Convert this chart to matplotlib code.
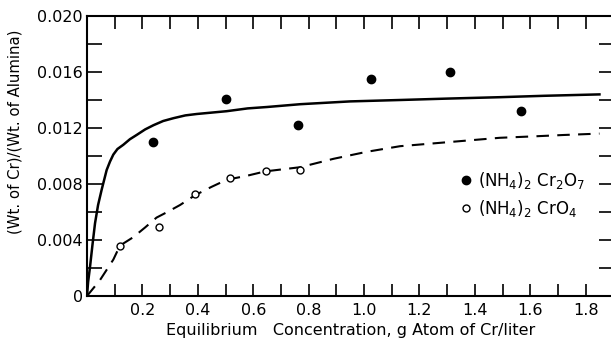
import numpy as np
import matplotlib as mpl
mpl.use('Agg')
from matplotlib import pyplot as plt
from matplotlib.ticker import MultipleLocator, FixedLocator

# measured points, (NH4)2Cr2O7 (filled)
dich_x = [0.24, 0.50, 0.76, 1.025, 1.31, 1.565]
dich_y = [0.0110, 0.0141, 0.0122, 0.0155, 0.0160, 0.0132]

# measured points, (NH4)2CrO4 (open)
chro_x = [0.12, 0.26, 0.39, 0.515, 0.645, 0.77]
chro_y = [0.0036, 0.0049, 0.0073, 0.0084, 0.0089, 0.0090]

# fitted curves
fit1_x = [0.0, 0.004, 0.011, 0.02, 0.029, 0.04, 0.053, 0.062, 0.071, 0.083, 0.095, 0.11,
          0.131, 0.155, 0.179, 0.21, 0.24, 0.275, 0.312, 0.355, 0.396, 0.45, 0.504,
          0.58, 0.65, 0.77, 0.95, 1.13, 1.30, 1.49, 1.65, 1.85]
fit1_y = [0.0, 0.0010, 0.0021, 0.0037, 0.0052, 0.0065, 0.0076, 0.0083, 0.0090, 0.0096, 0.0101, 0.0105,
          0.0108, 0.0112, 0.0115, 0.0119, 0.0122, 0.0125, 0.0127, 0.0129, 0.0130, 0.0131, 0.0132,
          0.0134, 0.0135, 0.0137, 0.0139, 0.0140, 0.0141, 0.0142, 0.0143, 0.0144]

fit2_x = [0.0, 0.047, 0.095, 0.119, 0.167, 0.21, 0.251, 0.29, 0.336, 0.39, 0.45, 0.504,
          0.58, 0.643, 0.77, 0.89, 1.01, 1.13, 1.25, 1.37, 1.49, 1.61, 1.72, 1.85]
fit2_y = [0.0, 0.00114, 0.0026, 0.0036, 0.0042, 0.0049, 0.0056, 0.0060, 0.0065, 0.0072, 0.0078, 0.0083,
          0.0086, 0.0089, 0.0092, 0.0098, 0.0103, 0.0107, 0.0109, 0.0111, 0.0113, 0.0114, 0.0115, 0.0116]

x_ticks = [0.2, 0.4, 0.6, 0.8, 1.0, 1.2, 1.4, 1.6, 1.8]
x_labels = ['0.2', '0.4', '0.6', '0.8', '1.0', '1.2', '1.4', '1.6', '1.8']
y_ticks = [0.0, 0.004, 0.008, 0.012, 0.016, 0.020]
y_labels = ['0', '0.004', '0.008', '0.012', '0.016', '0.020']

plt.rcParams['font.family'] = 'DejaVu Sans'

fig = plt.figure(figsize=(6.11, 3.45), dpi=100)
W, H = 611, 345
ax = fig.add_axes([87 / W, 1 - 296 / H, (614 - 87) / W, (296 - 16) / H])

ax.plot(fit1_x, fit1_y, color='black', lw=1.8)
ax.plot(fit2_x, fit2_y, color='black', lw=1.5, dashes=(6, 4))
ax.plot(dich_x, dich_y, 'o', color='black', ms=6, zorder=5)
ax.plot(chro_x, chro_y, 'o', mfc='white', mec='black', mew=1.0, ms=5, zorder=5)

ax.set_xlim(0, (614 - 87) / 277.0)
ax.set_ylim(0, 0.020)

ax.xaxis.set_major_locator(FixedLocator(x_ticks))
ax.set_xticklabels(x_labels)
ax.xaxis.set_minor_locator(MultipleLocator(0.1))
ax.yaxis.set_major_locator(FixedLocator(y_ticks))
ax.set_yticklabels(y_labels)
ax.yaxis.set_minor_locator(MultipleLocator(0.002))

ax.tick_params(axis='x', which='both', direction='in', top=True, bottom=True,
               length=9, width=1.2, labelsize=11.5, pad=5)
ax.tick_params(axis='y', which='both', direction='in', left=True, right=True,
               length=11, width=1.2, labelsize=11.5, pad=3)
for s in ['left', 'bottom', 'top']:
    ax.spines[s].set_linewidth(1.5)
ax.spines['right'].set_visible(False)

ax.set_xlabel('Equilibrium   Concentration, g Atom of Cr/liter', fontsize=11.5)
ax.xaxis.set_label_coords(0.5, -0.095)
ax.set_ylabel('(Wt. of Cr)/(Wt. of Alumina)', fontsize=10.7)
ax.yaxis.set_label_coords(-0.123, 0.586)

# legend drawn as markers plus text
ax.plot([1.37], [0.00826], 'o', color='black', ms=6, clip_on=False)
ax.plot([1.37], [0.00626], 'o', mfc='white', mec='black', mew=1.0, ms=5, clip_on=False)
ax.text(1.41, 0.00826, r'(NH$_4$)$_2$ Cr$_2$O$_7$', fontsize=12, va='center')
ax.text(1.41, 0.00626, r'(NH$_4$)$_2$ CrO$_4$', fontsize=12, va='center')

fig.savefig('out.png', dpi=100)
